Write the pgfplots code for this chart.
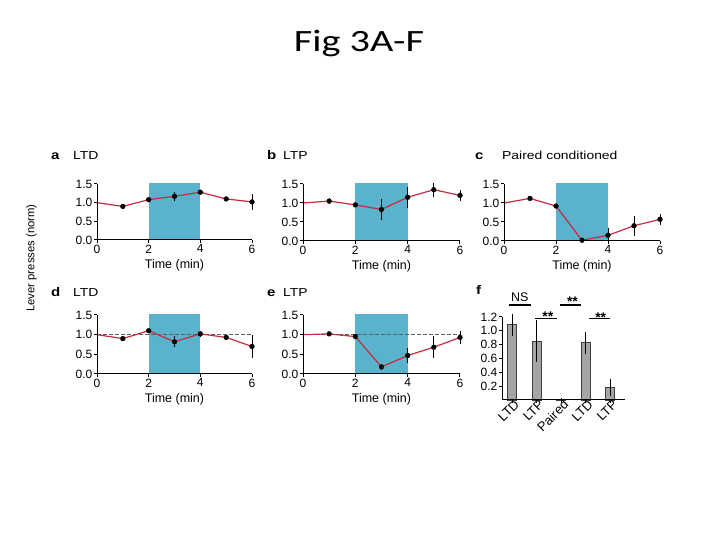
\documentclass[border=0pt]{standalone}
\usepackage{fontspec}
\setmainfont{Liberation Sans}
\newfontfamily\titlefont{Carlito}[FakeStretch=1.3]
\newfontfamily\widefont{Liberation Sans}[FakeStretch=1.2]
\usepackage{pgfplots}
\pgfplotsset{compat=1.18}
\definecolor{shade}{RGB}{90,178,204}
\definecolor{redline}{RGB}{195,45,60}
\definecolor{barfill}{RGB}{165,165,165}
\definecolor{dashgray}{RGB}{95,95,95}

\pgfplotsset{
  common/.style={
    scale only axis, clip=false, axis on top,
    axis lines=left, axis line style={-, line width=1pt, black},
    tick align=outside, major tick length=3pt,
    tick style={line width=1pt, black},
    /pgf/number format/assume math mode=true,
    tick label style={font=\fontsize{12}{12}\selectfont, inner sep=1.5pt},
    yticklabel style={/pgf/number format/.cd, fixed, fixed zerofill, precision=1},
  },
  panel/.style={
    common, anchor=south west,
    xmin=0, xmax=6, ymin=0, ymax=1.5,
    xtick={0,2,4,6}, ytick={0,0.5,1,1.5},
    xlabel={Time (min)},
    every axis x label/.style={at={(axis description cs:0.5,0)}, anchor=base, yshift=-29pt, font=\fontsize{12.5}{13}\selectfont},
  },
  redl/.style={redline, line width=1.2pt, no markers},
  pts/.style={only marks, mark=*, mark size=2.4pt, black, mark options={fill=black, draw=black},
    error bars/.cd, y dir=both, y explicit, error mark=none, error bar style={black, line width=0.9pt}},
  dash1/.style={dashgray, line width=0.9pt, dash pattern=on 4pt off 2pt},
}

\begin{document}
\begin{tikzpicture}
\path (0,0) rectangle (720pt,540pt);

% Title
\node[anchor=base, inner sep=0, font=\titlefont\fontsize{31}{31}\selectfont] at (359pt,488pt) {Fig 3A-F};

% Y label
\node[rotate=90, inner sep=0, font=\fontsize{11.3}{12}\selectfont] at (31.5pt,282pt) {Lever presses (norm)};

% Panel a
\begin{axis}[panel, at={(97pt,300pt)}, width=155pt, height=56pt]
\addplot[fill=shade, draw=none] coordinates {(2,1.53) (4,1.53)} \closedcycle;
\addplot[redl] coordinates {(0,1.0)(1,0.9)(2,1.08)(3,1.17)(4,1.28)(5,1.1)(6,1.02)};
\addplot[pts] coordinates {(1,0.9) +- (0,0.03) (2,1.08) +- (0,0.07) (3,1.17) +- (0,0.12) (4,1.28) +- (0,0.06) (5,1.1) +- (0,0.05) (6,1.02) +- (0,0.22)};
\end{axis}

% Panel b
\begin{axis}[panel, at={(303pt,299pt)}, width=157pt, height=57pt]
\addplot[fill=shade, draw=none] coordinates {(2,1.53) (4,1.53)} \closedcycle;
\addplot[redl] coordinates {(0,1.0)(1,1.05)(2,0.95)(3,0.83)(4,1.15)(5,1.35)(6,1.2)};
\addplot[pts] coordinates {(1,1.05) +- (0,0.07) (2,0.95) +- (0,0.03) (3,0.83) +- (0,0.28) (4,1.15) +- (0,0.28) (5,1.35) +- (0,0.18) (6,1.2) +- (0,0.15)};
\end{axis}

% Panel c
\begin{axis}[panel, at={(504pt,299pt)}, width=156pt, height=57pt]
\addplot[fill=shade, draw=none] coordinates {(2,1.53) (4,1.53)} \closedcycle;
\addplot[redl] coordinates {(0,1.0)(1,1.12)(2,0.92)(3,0.02)(4,0.15)(5,0.4)(6,0.57)};
\addplot[pts] coordinates {(1,1.12) +- (0,0.05) (2,0.92) +- (0,0.04) (3,0.02) +- (0,0.02) (4,0.15) +- (0,0.18) (5,0.4) +- (0,0.26) (6,0.57) +- (0,0.14)};
\end{axis}

% Panel d
\begin{axis}[panel, at={(97pt,166pt)}, width=155pt, height=59pt]
\addplot[fill=shade, draw=none] coordinates {(2,1.52) (4,1.52)} \closedcycle;
\addplot[dash1] coordinates {(0,1)(6,1)};
\addplot[redl] coordinates {(0,1.0)(1,0.9)(2,1.1)(3,0.82)(4,1.02)(5,0.93)(6,0.7)};
\addplot[pts] coordinates {(1,0.9) +- (0,0.03) (2,1.1) +- (0,0.03) (3,0.82) +- (0,0.14) (4,1.02) +- (0,0.08) (5,0.93) +- (0,0.06) (6,0.7) +- (0,0.3)};
\end{axis}

% Panel e
\begin{axis}[panel, at={(303pt,166pt)}, width=157pt, height=59pt]
\addplot[fill=shade, draw=none] coordinates {(2,1.52) (4,1.52)} \closedcycle;
\addplot[dash1] coordinates {(0,1)(6,1)};
\addplot[redl] coordinates {(0,1.0)(1,1.02)(2,0.95)(3,0.18)(4,0.47)(5,0.68)(6,0.93)};
\addplot[pts] coordinates {(1,1.02) +- (0,0.03) (2,0.95) +- (0,0.03) (3,0.18) +- (0,0.08) (4,0.47) +- (0,0.18) (5,0.68) +- (0,0.28) (6,0.93) +- (0,0.16)};
\end{axis}

% Panel f
\begin{axis}[common, anchor=south west, at={(502pt,140pt)}, width=123pt, height=83pt,
  xmin=0.59, xmax=5.6, ymin=0, ymax=1.2,
  ybar, bar width=9pt,
  xtick={1,2,3,4,5}, xticklabels={LTD,LTP,Paired,LTD,LTP},
  xticklabel style={rotate=45, anchor=east, inner sep=0pt, xshift=4pt, yshift=-3pt, font=\fontsize{13}{14}\selectfont},
  ytick={0.2,0.4,0.6,0.8,1.0,1.2}]
\addplot[fill=barfill, draw=black!75, line width=0.7pt,
  error bars/.cd, y dir=both, y explicit, error mark=none, error bar style={black, line width=0.9pt}]
  coordinates {(1,1.09) +- (0,0.16) (2,0.85) +- (0,0.3) (3,0.01) +- (0,0.02) (4,0.83) +- (0,0.16) (5,0.18) +- (0,0.12)};
\draw[line width=1.1pt] (axis cs:0.87,1.373) -- (axis cs:1.76,1.373);
\draw[line width=1.1pt] (axis cs:1.93,1.175) -- (axis cs:2.85,1.175);
\draw[line width=1.1pt] (axis cs:2.95,1.373) -- (axis cs:3.80,1.373);
\draw[line width=1.1pt] (axis cs:4.14,1.175) -- (axis cs:4.98,1.175);
\node[anchor=base, inner sep=0, font=\fontsize{12.5}{13}\selectfont] at (axis cs:1.31,1.43) {NS};
\node[anchor=base, inner sep=0, font=\bfseries\fontsize{14}{14}\selectfont] at (axis cs:2.46,1.13) {**};
\node[anchor=base, inner sep=0, font=\bfseries\fontsize{14}{14}\selectfont] at (axis cs:3.46,1.345) {**};
\node[anchor=base, inner sep=0, font=\bfseries\fontsize{14}{14}\selectfont] at (axis cs:4.61,1.12) {**};
\end{axis}

% Panel letters and titles
\node[anchor=base west, inner sep=0, font=\widefont\bfseries\fontsize{12.5}{13}\selectfont] at (51pt,380pt) {a};
\node[anchor=base west, inner sep=0, font=\widefont\fontsize{11.6}{12}\selectfont] at (73pt,380pt) {LTD};
\node[anchor=base west, inner sep=0, font=\widefont\bfseries\fontsize{12.5}{13}\selectfont] at (267pt,380pt) {b};
\node[anchor=base west, inner sep=0, font=\widefont\fontsize{11.6}{12}\selectfont] at (283pt,380pt) {LTP};
\node[anchor=base west, inner sep=0, font=\widefont\bfseries\fontsize{12.5}{13}\selectfont] at (475pt,380pt) {c};
\node[anchor=base west, inner sep=0, font=\widefont\fontsize{11.6}{12}\selectfont] at (502pt,380pt) {Paired conditioned};
\node[anchor=base west, inner sep=0, font=\widefont\bfseries\fontsize{12.5}{13}\selectfont] at (51pt,243pt) {d};
\node[anchor=base west, inner sep=0, font=\widefont\fontsize{11.6}{12}\selectfont] at (73pt,243pt) {LTD};
\node[anchor=base west, inner sep=0, font=\widefont\bfseries\fontsize{12.5}{13}\selectfont] at (267pt,243pt) {e};
\node[anchor=base west, inner sep=0, font=\widefont\fontsize{11.6}{12}\selectfont] at (283pt,243pt) {LTP};
\node[anchor=base west, inner sep=0, font=\widefont\bfseries\fontsize{12.5}{13}\selectfont] at (476pt,245pt) {f};
\end{tikzpicture}
\end{document}
